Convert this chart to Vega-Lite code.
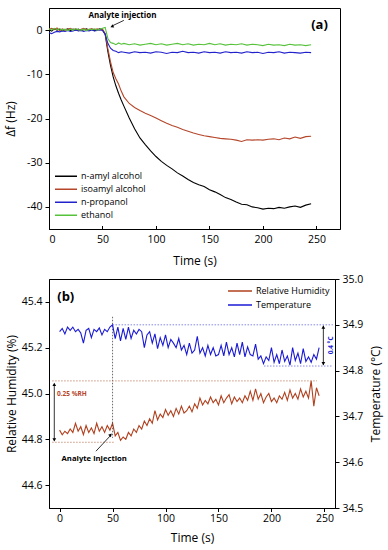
{
"$schema": "https://vega.github.io/schema/vega-lite/v6.json",
"padding": {"left": 4, "top": 7, "right": 2, "bottom": 5},
"config": {
 "font": "Open Sans",
 "view": {"stroke": "black", "strokeWidth": 1},
 "axis": {"grid": false, "domainColor": "black", "tickColor": "black", "labelColor": "black", "titleColor": "black", "titleFontWeight": "normal", "labelFontSize": 10.5, "titleFontSize": 12, "tickWidth": 1, "domainWidth": 1, "labelOverlap": false},
 "legend": {"labelColor": "black"},
 "text": {"font": "Open Sans"}
},
"datasets": {
 "pa": [
  {"t":0,"n-amyl alcohol":0.1,"isoamyl alcohol":0.2,"n-propanol":-0.6,"ethanol":0.3},
  {"t":2.5,"n-amyl alcohol":-0.2,"isoamyl alcohol":0.4,"n-propanol":-0.8,"ethanol":0.0},
  {"t":5,"n-amyl alcohol":0.3,"isoamyl alcohol":0.1,"n-propanol":-0.5,"ethanol":0.4},
  {"t":7.5,"n-amyl alcohol":0.0,"isoamyl alcohol":0.5,"n-propanol":-0.3,"ethanol":0.1},
  {"t":10,"n-amyl alcohol":0.2,"isoamyl alcohol":-0.1,"n-propanol":-0.4,"ethanol":0.3},
  {"t":12.5,"n-amyl alcohol":-0.1,"isoamyl alcohol":0.3,"n-propanol":-0.2,"ethanol":0.0},
  {"t":15,"n-amyl alcohol":0.1,"isoamyl alcohol":0.0,"n-propanol":-0.3,"ethanol":0.2},
  {"t":17.5,"n-amyl alcohol":0.3,"isoamyl alcohol":0.2,"n-propanol":-0.1,"ethanol":-0.1},
  {"t":20,"n-amyl alcohol":-0.1,"isoamyl alcohol":0.4,"n-propanol":-0.3,"ethanol":0.2},
  {"t":22.5,"n-amyl alcohol":0.2,"isoamyl alcohol":0.1,"n-propanol":-0.2,"ethanol":0.0},
  {"t":25,"n-amyl alcohol":0.0,"isoamyl alcohol":0.3,"n-propanol":0.0,"ethanol":0.3},
  {"t":27.5,"n-amyl alcohol":0.2,"isoamyl alcohol":-0.1,"n-propanol":-0.2,"ethanol":0.1},
  {"t":30,"n-amyl alcohol":-0.1,"isoamyl alcohol":0.2,"n-propanol":-0.1,"ethanol":0.0},
  {"t":32.5,"n-amyl alcohol":0.1,"isoamyl alcohol":0.4,"n-propanol":-0.3,"ethanol":0.2},
  {"t":35,"n-amyl alcohol":0.3,"isoamyl alcohol":0.0,"n-propanol":-0.1,"ethanol":-0.1},
  {"t":37.5,"n-amyl alcohol":0.0,"isoamyl alcohol":0.2,"n-propanol":-0.2,"ethanol":0.2},
  {"t":40,"n-amyl alcohol":0.2,"isoamyl alcohol":0.3,"n-propanol":0.0,"ethanol":0.1},
  {"t":42.5,"n-amyl alcohol":-0.1,"isoamyl alcohol":0.1,"n-propanol":-0.2,"ethanol":0.3},
  {"t":45,"n-amyl alcohol":0.1,"isoamyl alcohol":0.3,"n-propanol":-0.1,"ethanol":0.0},
  {"t":47.5,"n-amyl alcohol":0.3,"isoamyl alcohol":0.0,"n-propanol":0.1,"ethanol":0.2},
  {"t":50,"n-amyl alcohol":0.1,"isoamyl alcohol":0.2,"n-propanol":-0.1,"ethanol":0.4},
  {"t":52.5,"n-amyl alcohol":-1.0,"isoamyl alcohol":-0.8,"n-propanol":-0.9,"ethanol":0.6},
  {"t":55,"n-amyl alcohol":-4.8,"isoamyl alcohol":-4.2,"n-propanol":-3.0,"ethanol":-1.9},
  {"t":57.5,"n-amyl alcohol":-8.0,"isoamyl alcohol":-7.2,"n-propanol":-4.1,"ethanol":-2.8},
  {"t":60,"n-amyl alcohol":-10.6,"isoamyl alcohol":-9.6,"n-propanol":-4.6,"ethanol":-3.0},
  {"t":62.5,"n-amyl alcohol":-12.6,"isoamyl alcohol":-11.0,"n-propanol":-4.8,"ethanol":-3.3},
  {"t":65,"n-amyl alcohol":-14.3,"isoamyl alcohol":-12.2,"n-propanol":-5.1,"ethanol":-2.9},
  {"t":67.5,"n-amyl alcohol":-15.8,"isoamyl alcohol":-13.8,"n-propanol":-4.9,"ethanol":-3.2},
  {"t":70,"n-amyl alcohol":-17.2,"isoamyl alcohol":-15.1,"n-propanol":-5.0,"ethanol":-3.0},
  {"t":75,"n-amyl alcohol":-19.9,"isoamyl alcohol":-16.6,"n-propanol":-5.2,"ethanol":-3.3},
  {"t":80,"n-amyl alcohol":-22.3,"isoamyl alcohol":-17.5,"n-propanol":-4.9,"ethanol":-3.1},
  {"t":85,"n-amyl alcohol":-24.4,"isoamyl alcohol":-18.2,"n-propanol":-5.1,"ethanol":-3.4},
  {"t":90,"n-amyl alcohol":-25.9,"isoamyl alcohol":-18.8,"n-propanol":-5.0,"ethanol":-3.2},
  {"t":95,"n-amyl alcohol":-27.3,"isoamyl alcohol":-19.3,"n-propanol":-5.2,"ethanol":-3.0},
  {"t":100,"n-amyl alcohol":-28.6,"isoamyl alcohol":-19.9,"n-propanol":-4.9,"ethanol":-3.3},
  {"t":105,"n-amyl alcohol":-29.7,"isoamyl alcohol":-20.5,"n-propanol":-5.0,"ethanol":-3.1},
  {"t":110,"n-amyl alcohol":-30.6,"isoamyl alcohol":-21.1,"n-propanol":-5.3,"ethanol":-3.4},
  {"t":115,"n-amyl alcohol":-31.4,"isoamyl alcohol":-21.6,"n-propanol":-5.0,"ethanol":-3.2},
  {"t":120,"n-amyl alcohol":-32.3,"isoamyl alcohol":-22.0,"n-propanol":-5.1,"ethanol":-3.0},
  {"t":125,"n-amyl alcohol":-33.0,"isoamyl alcohol":-22.5,"n-propanol":-4.8,"ethanol":-3.3},
  {"t":130,"n-amyl alcohol":-33.8,"isoamyl alcohol":-22.9,"n-propanol":-5.1,"ethanol":-3.1},
  {"t":135,"n-amyl alcohol":-34.5,"isoamyl alcohol":-23.3,"n-propanol":-5.0,"ethanol":-3.4},
  {"t":140,"n-amyl alcohol":-35.0,"isoamyl alcohol":-23.6,"n-propanol":-5.2,"ethanol":-3.2},
  {"t":145,"n-amyl alcohol":-35.4,"isoamyl alcohol":-23.9,"n-propanol":-4.9,"ethanol":-3.3},
  {"t":150,"n-amyl alcohol":-36.1,"isoamyl alcohol":-24.1,"n-propanol":-5.1,"ethanol":-3.0},
  {"t":155,"n-amyl alcohol":-36.6,"isoamyl alcohol":-24.3,"n-propanol":-5.0,"ethanol":-3.3},
  {"t":160,"n-amyl alcohol":-37.2,"isoamyl alcohol":-24.5,"n-propanol":-5.2,"ethanol":-3.1},
  {"t":165,"n-amyl alcohol":-37.9,"isoamyl alcohol":-24.6,"n-propanol":-4.9,"ethanol":-3.4},
  {"t":170,"n-amyl alcohol":-38.3,"isoamyl alcohol":-24.7,"n-propanol":-5.1,"ethanol":-3.2},
  {"t":175,"n-amyl alcohol":-38.9,"isoamyl alcohol":-24.9,"n-propanol":-5.0,"ethanol":-3.3},
  {"t":180,"n-amyl alcohol":-39.4,"isoamyl alcohol":-25.2,"n-propanol":-5.2,"ethanol":-3.1},
  {"t":185,"n-amyl alcohol":-39.5,"isoamyl alcohol":-24.8,"n-propanol":-4.9,"ethanol":-3.4},
  {"t":190,"n-amyl alcohol":-40.0,"isoamyl alcohol":-24.9,"n-propanol":-5.1,"ethanol":-3.2},
  {"t":195,"n-amyl alcohol":-40.2,"isoamyl alcohol":-24.8,"n-propanol":-5.0,"ethanol":-3.3},
  {"t":200,"n-amyl alcohol":-40.5,"isoamyl alcohol":-24.9,"n-propanol":-5.3,"ethanol":-3.5},
  {"t":205,"n-amyl alcohol":-40.3,"isoamyl alcohol":-24.7,"n-propanol":-5.0,"ethanol":-3.2},
  {"t":210,"n-amyl alcohol":-40.4,"isoamyl alcohol":-24.6,"n-propanol":-5.1,"ethanol":-3.4},
  {"t":215,"n-amyl alcohol":-40.1,"isoamyl alcohol":-24.8,"n-propanol":-4.9,"ethanol":-3.3},
  {"t":220,"n-amyl alcohol":-40.3,"isoamyl alcohol":-24.4,"n-propanol":-5.2,"ethanol":-3.5},
  {"t":225,"n-amyl alcohol":-40.0,"isoamyl alcohol":-24.6,"n-propanol":-5.0,"ethanol":-3.2},
  {"t":230,"n-amyl alcohol":-39.8,"isoamyl alcohol":-24.2,"n-propanol":-5.1,"ethanol":-3.4},
  {"t":235,"n-amyl alcohol":-40.1,"isoamyl alcohol":-24.5,"n-propanol":-5.2,"ethanol":-3.3},
  {"t":240,"n-amyl alcohol":-39.6,"isoamyl alcohol":-24.1,"n-propanol":-5.0,"ethanol":-3.5},
  {"t":245,"n-amyl alcohol":-39.3,"isoamyl alcohol":-24.0,"n-propanol":-5.1,"ethanol":-3.3}
 ],
 "pb": [
  {"t":0,"Relative Humidity":44.84,"Temperature":34.885},
  {"t":2.5,"Relative Humidity":44.82,"Temperature":34.892},
  {"t":5,"Relative Humidity":44.835,"Temperature":34.88},
  {"t":7.5,"Relative Humidity":44.825,"Temperature":34.895},
  {"t":10,"Relative Humidity":44.845,"Temperature":34.888},
  {"t":12.5,"Relative Humidity":44.83,"Temperature":34.895},
  {"t":15,"Relative Humidity":44.87,"Temperature":34.885},
  {"t":17.5,"Relative Humidity":44.835,"Temperature":34.89},
  {"t":20,"Relative Humidity":44.855,"Temperature":34.882},
  {"t":22.5,"Relative Humidity":44.82,"Temperature":34.86},
  {"t":25,"Relative Humidity":44.86,"Temperature":34.888},
  {"t":27.5,"Relative Humidity":44.83,"Temperature":34.892},
  {"t":30,"Relative Humidity":44.85,"Temperature":34.872},
  {"t":32.5,"Relative Humidity":44.825,"Temperature":34.89},
  {"t":35,"Relative Humidity":44.87,"Temperature":34.885},
  {"t":37.5,"Relative Humidity":44.835,"Temperature":34.893},
  {"t":40,"Relative Humidity":44.855,"Temperature":34.878},
  {"t":42.5,"Relative Humidity":44.83,"Temperature":34.89},
  {"t":45,"Relative Humidity":44.86,"Temperature":34.885},
  {"t":47.5,"Relative Humidity":44.84,"Temperature":34.895},
  {"t":50,"Relative Humidity":44.87,"Temperature":34.9},
  {"t":52.5,"Relative Humidity":44.815,"Temperature":34.87},
  {"t":55,"Relative Humidity":44.83,"Temperature":34.895},
  {"t":57.5,"Relative Humidity":44.795,"Temperature":34.865},
  {"t":60,"Relative Humidity":44.81,"Temperature":34.892},
  {"t":62.5,"Relative Humidity":44.8,"Temperature":34.868},
  {"t":65,"Relative Humidity":44.83,"Temperature":34.895},
  {"t":67.5,"Relative Humidity":44.815,"Temperature":34.87},
  {"t":70,"Relative Humidity":44.845,"Temperature":34.888},
  {"t":72.5,"Relative Humidity":44.83,"Temperature":34.88},
  {"t":75,"Relative Humidity":44.86,"Temperature":34.89},
  {"t":77.5,"Relative Humidity":44.845,"Temperature":34.885},
  {"t":80,"Relative Humidity":44.88,"Temperature":34.85},
  {"t":82.5,"Relative Humidity":44.86,"Temperature":34.878},
  {"t":85,"Relative Humidity":44.89,"Temperature":34.885},
  {"t":87.5,"Relative Humidity":44.87,"Temperature":34.86},
  {"t":90,"Relative Humidity":44.925,"Temperature":34.88},
  {"t":92.5,"Relative Humidity":44.885,"Temperature":34.848},
  {"t":95,"Relative Humidity":44.91,"Temperature":34.872},
  {"t":97.5,"Relative Humidity":44.895,"Temperature":34.855},
  {"t":100,"Relative Humidity":44.93,"Temperature":34.878},
  {"t":102.5,"Relative Humidity":44.905,"Temperature":34.85},
  {"t":105,"Relative Humidity":44.925,"Temperature":34.868},
  {"t":107.5,"Relative Humidity":44.9,"Temperature":34.86},
  {"t":110,"Relative Humidity":44.935,"Temperature":34.85},
  {"t":112.5,"Relative Humidity":44.91,"Temperature":34.87},
  {"t":115,"Relative Humidity":44.945,"Temperature":34.845},
  {"t":117.5,"Relative Humidity":44.915,"Temperature":34.855},
  {"t":120,"Relative Humidity":44.925,"Temperature":34.835},
  {"t":122.5,"Relative Humidity":44.945,"Temperature":34.86},
  {"t":125,"Relative Humidity":44.92,"Temperature":34.838},
  {"t":127.5,"Relative Humidity":44.955,"Temperature":34.845},
  {"t":130,"Relative Humidity":44.935,"Temperature":34.875},
  {"t":132.5,"Relative Humidity":44.98,"Temperature":34.838},
  {"t":135,"Relative Humidity":44.95,"Temperature":34.85},
  {"t":137.5,"Relative Humidity":44.97,"Temperature":34.832},
  {"t":140,"Relative Humidity":44.955,"Temperature":34.855},
  {"t":142.5,"Relative Humidity":44.985,"Temperature":34.835},
  {"t":145,"Relative Humidity":44.96,"Temperature":34.85},
  {"t":147.5,"Relative Humidity":44.975,"Temperature":34.832},
  {"t":150,"Relative Humidity":44.95,"Temperature":34.835},
  {"t":152.5,"Relative Humidity":44.99,"Temperature":34.855},
  {"t":155,"Relative Humidity":44.96,"Temperature":34.832},
  {"t":157.5,"Relative Humidity":44.98,"Temperature":34.862},
  {"t":160,"Relative Humidity":44.995,"Temperature":34.835},
  {"t":162.5,"Relative Humidity":44.955,"Temperature":34.85},
  {"t":165,"Relative Humidity":44.985,"Temperature":34.83},
  {"t":167.5,"Relative Humidity":44.965,"Temperature":34.86},
  {"t":170,"Relative Humidity":44.98,"Temperature":34.835},
  {"t":172.5,"Relative Humidity":44.96,"Temperature":34.862},
  {"t":175,"Relative Humidity":44.99,"Temperature":34.83},
  {"t":177.5,"Relative Humidity":44.97,"Temperature":34.852},
  {"t":180,"Relative Humidity":45.01,"Temperature":34.835},
  {"t":182.5,"Relative Humidity":44.97,"Temperature":34.832},
  {"t":185,"Relative Humidity":45.02,"Temperature":34.858},
  {"t":187.5,"Relative Humidity":44.975,"Temperature":34.825},
  {"t":190,"Relative Humidity":45.0,"Temperature":34.832},
  {"t":192.5,"Relative Humidity":44.96,"Temperature":34.815},
  {"t":195,"Relative Humidity":44.985,"Temperature":34.83},
  {"t":197.5,"Relative Humidity":45.0,"Temperature":34.822},
  {"t":200,"Relative Humidity":44.965,"Temperature":34.85},
  {"t":202.5,"Relative Humidity":44.98,"Temperature":34.818},
  {"t":205,"Relative Humidity":44.96,"Temperature":34.835},
  {"t":207.5,"Relative Humidity":44.99,"Temperature":34.815},
  {"t":210,"Relative Humidity":44.975,"Temperature":34.845},
  {"t":212.5,"Relative Humidity":45.005,"Temperature":34.82},
  {"t":215,"Relative Humidity":44.97,"Temperature":34.832},
  {"t":217.5,"Relative Humidity":45.015,"Temperature":34.812},
  {"t":220,"Relative Humidity":44.98,"Temperature":34.85},
  {"t":222.5,"Relative Humidity":45.0,"Temperature":34.822},
  {"t":225,"Relative Humidity":44.975,"Temperature":34.838},
  {"t":227.5,"Relative Humidity":45.02,"Temperature":34.815},
  {"t":230,"Relative Humidity":44.985,"Temperature":34.848},
  {"t":232.5,"Relative Humidity":45.01,"Temperature":34.82},
  {"t":235,"Relative Humidity":44.98,"Temperature":34.83},
  {"t":237.5,"Relative Humidity":45.055,"Temperature":34.818},
  {"t":240,"Relative Humidity":44.945,"Temperature":34.835},
  {"t":242.5,"Relative Humidity":45.025,"Temperature":34.825},
  {"t":245,"Relative Humidity":44.99,"Temperature":34.85}
 ]
},
"vconcat": [
 {
  "width": 291, "height": 221,
  "layer": [
   {
    "data": {"name": "pa"},
    "transform": [{"fold": ["n-amyl alcohol", "isoamyl alcohol", "n-propanol", "ethanol"], "as": ["series", "df"]}],
    "mark": {"type": "line", "strokeWidth": 1.1},
    "encoding": {
     "x": {"field": "t", "type": "quantitative", "scale": {"domain": [0, 272], "nice": false, "zero": false},
      "axis": {"title": "Time (s)", "values": [0,25,50,75,100,125,150,175,200,225,250],
       "labelExpr": "datum.value % 50 === 0 ? datum.label : ''",
       "tickSize": -3.5, "labelPadding": 8.5, "titlePadding": 11}},
     "y": {"field": "df", "type": "quantitative", "scale": {"domain": [-45, 5], "nice": false, "zero": false},
      "axis": {"title": "Δf (Hz)", "values": [-40,-35,-30,-25,-20,-15,-10,-5,0],
       "labelExpr": "datum.value % 10 === 0 ? replace(datum.label, '−', '-') : ''",
       "tickSize": 4, "labelPadding": 3, "titlePadding": 9}},
     "color": {"field": "series", "type": "nominal",
      "scale": {"domain": ["n-amyl alcohol", "isoamyl alcohol", "n-propanol", "ethanol"], "range": ["#000000", "#b5462a", "#2222cc", "#55c23a"]},
      "legend": {"title": null, "orient": "none", "legendX": 5, "legendY": 162, "symbolType": "stroke", "symbolSize": 484, "symbolStrokeWidth": 1.5, "clipHeight": 12.7, "rowPadding": 0, "labelFontSize": 9, "labelOffset": 3, "padding": 0}}
    }
   },
   {"data": {"values": [{}]},
    "mark": {"type": "text", "text": "Analyte injection", "fontWeight": "bold", "fontSize": 8, "color": "black"},
    "encoding": {"x": {"datum": 68.6}, "y": {"datum": 3.3}}},
   {"data": {"values": [{}]},
    "mark": {"type": "rule", "color": "black", "strokeWidth": 0.8},
    "encoding": {"x": {"datum": 70}, "y": {"datum": 2.2}, "x2": {"datum": 59.5}, "y2": {"datum": 1.0}}},
   {"data": {"values": [{}]},
    "mark": {"type": "point", "shape": "triangle-up", "angle": 245, "filled": true, "size": 14, "color": "black", "opacity": 1},
    "encoding": {"x": {"datum": 58.8}, "y": {"datum": 0.8}}},
   {"data": {"values": [{}]},
    "mark": {"type": "text", "text": "(a)", "fontWeight": "bold", "fontSize": 13, "color": "black"},
    "encoding": {"x": {"datum": 252.8}, "y": {"datum": 1.1}}}
  ]
 },
 {
  "width": 286, "height": 229,
  "layer": [
   {
    "layer": [
     {
      "data": {"name": "pb"},
      "transform": [{"fold": ["Relative Humidity"], "as": ["series", "rh"]}],
      "mark": {"type": "line", "strokeWidth": 1.1},
      "encoding": {
       "x": {"field": "t", "type": "quantitative", "scale": {"domain": [-10, 260], "nice": false, "zero": false},
        "axis": {"title": "Time (s)", "values": [0,25,50,75,100,125,150,175,200,225,250],
         "labelExpr": "datum.value % 50 === 0 ? datum.label : ''",
         "tickSize": 3.5, "labelPadding": 2, "titlePadding": 8}},
       "y": {"field": "rh", "type": "quantitative", "scale": {"domain": [44.5, 45.5], "nice": false, "zero": false},
        "axis": {"title": "Relative Humidity (%)", "values": [44.6,44.7,44.8,44.9,45.0,45.1,45.2,45.3,45.4], "format": ".1f",
         "labelExpr": "round(datum.value*10) % 2 === 0 ? datum.label : ''",
         "tickSize": 4, "labelPadding": 3, "titlePadding": 3}},
       "color": {"field": "series", "type": "nominal",
        "scale": {"domain": ["Relative Humidity", "Temperature"], "range": ["#b0401e", "#1a1ad4"]},
        "legend": {"title": null, "orient": "none", "legendX": 178, "legendY": 5, "symbolType": "stroke", "symbolSize": 576, "symbolStrokeWidth": 1.5, "clipHeight": 14, "rowPadding": 0, "labelFontSize": 9, "labelOffset": 3, "padding": 0}}
      }
     },
     {"data": {"values": [{}]},
      "mark": {"type": "rule", "color": "#444444", "strokeWidth": 0.8, "strokeDash": [1.5, 1.5]},
      "encoding": {"x": {"datum": 50}, "y": {"datum": 45.335}, "y2": {"datum": 44.806}}},
     {"data": {"values": [{}]},
      "mark": {"type": "rule", "color": "#c07a5a", "strokeWidth": 0.8, "strokeDash": [1.5, 1.5]},
      "encoding": {"x": {"datum": -7}, "x2": {"datum": 243}, "y": {"datum": 45.055}}},
     {"data": {"values": [{}]},
      "mark": {"type": "rule", "color": "#c07a5a", "strokeWidth": 0.8, "strokeDash": [1.5, 1.5]},
      "encoding": {"x": {"datum": -7}, "x2": {"datum": 51}, "y": {"datum": 44.787}}},
     {"data": {"values": [{}]},
      "mark": {"type": "rule", "color": "black", "strokeWidth": 0.8},
      "encoding": {"x": {"datum": -5}, "y": {"datum": 45.04}, "y2": {"datum": 44.795}}},
     {"data": {"values": [{}]},
      "mark": {"type": "point", "shape": "triangle-up", "filled": true, "size": 14, "color": "black", "opacity": 1},
      "encoding": {"x": {"datum": -5}, "y": {"datum": 45.04}}},
     {"data": {"values": [{}]},
      "mark": {"type": "point", "shape": "triangle-down", "filled": true, "size": 14, "color": "black", "opacity": 1},
      "encoding": {"x": {"datum": -5}, "y": {"datum": 44.797}}},
     {"data": {"values": [{}]},
      "mark": {"type": "text", "text": "0.25 %RH", "fontWeight": "bold", "fontSize": 6.5, "color": "#b5462a", "align": "left"},
      "encoding": {"x": {"datum": -2.5}, "y": {"datum": 44.996}}},
     {"data": {"values": [{}]},
      "mark": {"type": "text", "text": "Analyte injection", "fontWeight": "bold", "fontSize": 7.7, "color": "black"},
      "encoding": {"x": {"datum": 32.7}, "y": {"datum": 44.713}}},
     {"data": {"values": [{}]},
      "mark": {"type": "rule", "color": "black", "strokeWidth": 0.8},
      "encoding": {"x": {"datum": 34.3}, "y": {"datum": 44.748}, "x2": {"datum": 47.8}, "y2": {"datum": 44.815}}},
     {"data": {"values": [{}]},
      "mark": {"type": "point", "shape": "triangle-up", "angle": 42, "filled": true, "size": 14, "color": "black", "opacity": 1},
      "encoding": {"x": {"datum": 48.2}, "y": {"datum": 44.82}}},
     {"data": {"values": [{}]},
      "mark": {"type": "text", "text": "(b)", "fontWeight": "bold", "fontSize": 13, "color": "black"},
      "encoding": {"x": {"datum": 5.8}, "y": {"datum": 45.42}}}
    ]
   },
   {
    "layer": [
     {
      "data": {"name": "pb"},
      "transform": [{"fold": ["Temperature"], "as": ["series", "temp"]}],
      "mark": {"type": "line", "strokeWidth": 1.1},
      "encoding": {
       "x": {"field": "t", "type": "quantitative", "scale": {"domain": [-10, 260], "nice": false, "zero": false}},
       "y": {"field": "temp", "type": "quantitative", "scale": {"domain": [34.5, 35.0], "nice": false, "zero": false},
        "axis": {"title": "Temperature (°C)", "orient": "right", "titleAngle": -90, "titleBaseline": "top", "values": [34.5,34.55,34.6,34.65,34.7,34.75,34.8,34.85,34.9,34.95,35.0], "format": ".1f",
         "labelExpr": "round(datum.value*100) % 10 === 0 ? datum.label : ''",
         "tickSize": 4, "labelPadding": 3, "titlePadding": 8}},
       "color": {"field": "series", "type": "nominal",
        "scale": {"domain": ["Relative Humidity", "Temperature"], "range": ["#b0401e", "#1a1ad4"]}}
      }
     },
     {"data": {"values": [{}]},
      "mark": {"type": "rule", "color": "#6a6ae0", "strokeWidth": 0.8, "strokeDash": [1.5, 1.5]},
      "encoding": {"x": {"datum": 50}, "x2": {"datum": 258}, "y": {"datum": 34.9}}},
     {"data": {"values": [{}]},
      "mark": {"type": "rule", "color": "#6a6ae0", "strokeWidth": 0.8, "strokeDash": [1.5, 1.5]},
      "encoding": {"x": {"datum": 193}, "x2": {"datum": 258}, "y": {"datum": 34.81}}},
     {"data": {"values": [{}]},
      "mark": {"type": "rule", "color": "black", "strokeWidth": 0.8},
      "encoding": {"x": {"datum": 249}, "y": {"datum": 34.898}, "y2": {"datum": 34.812}}},
     {"data": {"values": [{}]},
      "mark": {"type": "point", "shape": "triangle-up", "filled": true, "size": 14, "color": "black", "opacity": 1},
      "encoding": {"x": {"datum": 249}, "y": {"datum": 34.895}}},
     {"data": {"values": [{}]},
      "mark": {"type": "point", "shape": "triangle-down", "filled": true, "size": 14, "color": "black", "opacity": 1},
      "encoding": {"x": {"datum": 249}, "y": {"datum": 34.815}}},
     {"data": {"values": [{}]},
      "mark": {"type": "text", "text": "0.4 °C", "fontWeight": "bold", "fontSize": 6.5, "color": "#1a1ad4", "angle": 270},
      "encoding": {"x": {"datum": 256}, "y": {"datum": 34.855}}}
    ]
   }
  ],
  "resolve": {"scale": {"y": "independent"}}
 }
],
"spacing": 50,
"bounds": "flush",
"resolve": {"scale": {"color": "independent", "x": "independent", "y": "independent"}, "legend": {"color": "independent"}}
}
